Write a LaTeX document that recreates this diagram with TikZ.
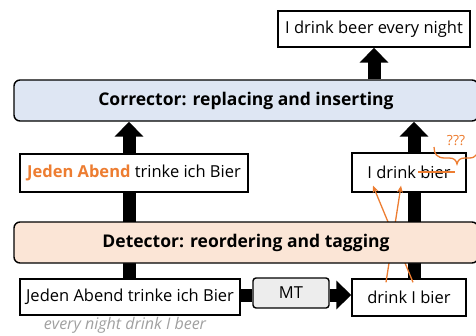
\documentclass[tikz,border=0pt]{standalone}
\usepackage{fontspec}
\setmainfont{Open Sans}
\usetikzlibrary{arrows.meta,calc,backgrounds}
\definecolor{orng}{HTML}{ED7D31}
\definecolor{corrfill}{HTML}{DEE6F3}
\definecolor{detfill}{HTML}{FBE5D6}
\definecolor{mtfill}{HTML}{EDEDED}
\definecolor{glossgray}{HTML}{A0A0A0}
\begin{document}
\begin{tikzpicture}[x=1pt,y=-1pt,
  box/.style={draw=black, line width=1.4pt, fill=white, inner sep=0pt,
    font=\fontsize{16.5}{19}\selectfont},
  stage/.style={draw=black, line width=1.4pt, rounded corners=6pt, inner sep=0pt,
    minimum width=464pt, minimum height=41pt, font=\fontsize{17.5}{20}\selectfont\bfseries},
  shaft/.style={draw=black, line width=13pt},
  blockarrow/.style={shaft, -{Triangle[width=28pt,length=15pt]}},
  fix/.style={orng, line width=1.3pt, -{Stealth[length=7pt,width=6pt]}}]
\useasboundingbox (0,0) rectangle (476,335);
\clip (0,0) rectangle (476,335);
\coordinate (colL) at (129,0);
\coordinate (colR) at (414,0);
\coordinate (colT) at (374,0);
\coordinate (rowB) at (0,295);

% small boxes
\node[box, minimum width=192pt, minimum height=36pt] (out) at (374,29) {I drink beer every night};
\node[box, minimum width=228pt, minimum height=38pt] (src2) at (134,173)
  {\textcolor{orng}{\bfseries Jeden Abend} trinke ich Bier};
\node[box, minimum width=114pt, minimum height=39pt] (hyp2) at (409,172.5) {I drink bier};
\node[box, minimum width=220pt, minimum height=36pt] (src) at (130,297) {Jeden Abend trinke ich Bier};
\node[box, rounded corners=3pt, fill=mtfill, minimum width=76pt, minimum height=30pt] (mt) at (291,293) {MT};
\node[box, minimum width=114pt, minimum height=37pt] (hyp) at (409,297.5) {drink I bier};

% orange annotations
\draw[fix] ($(hyp.north)+(-23,4)$) -- ($(hyp2.south)+(-8,-7)$);
\draw[fix] ($(hyp.north)+(4,4)$) -- ($(hyp2.south)+(-36,-7)$);
\draw[orng, line width=1.3pt] ($(hyp2.center)+(9,-0.5)$) -- ($(hyp2.center)+(46,-0.5)$);
\draw[orng, line width=1.3pt]
  (434,147) .. controls (434,154) and (437,158) .. (445,158) -- (449,158)
  .. controls (454,158) and (456,160) .. (457,164)
  .. controls (458,160) and (460,158) .. (465,158) -- (469,158)
  .. controls (476,158) and (478,154) .. (478,147);
\node[text=orng, font=\fontsize{14}{16}\selectfont, inner sep=0pt] (qq) at (456,141) {???};

% stages
\node[stage, fill=corrfill] (corr) at (246,100.5) {Corrector: replacing and inserting};
\node[stage, fill=detfill] (det) at (246,242.5) {Detector: reordering and tagging};

% gloss
\node[text=glossgray, font=\fontsize{16}{18}\selectfont\itshape, inner sep=0pt] (gloss) at (125,325) {every night drink I beer};

\begin{pgfonlayer}{background}
  \draw[shaft] (src.north -| colL) -- (src2.south -| colL);
  \draw[blockarrow] (src2.north -| colL) -- (corr.south -| colL);
  \draw[shaft] (hyp.north -| colR) -- (hyp2.south -| colR);
  \draw[blockarrow] (hyp2.north -| colR) -- (corr.south -| colR);
  \draw[blockarrow] (corr.north -| colT) -- (out.south -| colT);
  \draw[shaft] (src.east |- rowB) -- (mt.west |- rowB);
  \draw[blockarrow] (mt.east |- rowB) -- (hyp.west |- rowB);
\end{pgfonlayer}
\end{tikzpicture}
\end{document}
